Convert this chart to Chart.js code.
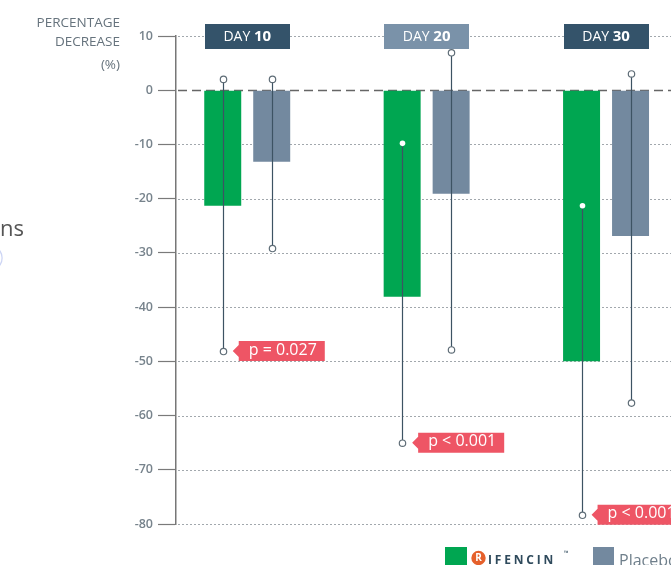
<!DOCTYPE html>
<html><head><meta charset="utf-8">
<script src="https://cdn.jsdelivr.net/npm/chart.js@4.4.1/dist/chart.umd.min.js"></script>
<style>html,body{margin:0;padding:0;background:#fff;overflow:hidden}canvas{display:block}</style>
</head><body><canvas id="c" width="671" height="565"></canvas>
<script>
// ---- data ----
const categories = ['DAY 10', 'DAY 20', 'DAY 30'];
const rifencin = [-21.3, -38.1, -50.0];
const placebo = [-13.2, -19.1, -26.9];
const rifencinErrHigh = [2.0, -9.8, -21.3];
const rifencinErrLow = [-48.2, -65.1, -78.4];
const placeboErrHigh = [2.0, 6.9, 3.0];
const placeboErrLow = [-29.2, -47.9, -57.7];
const pValues = ['p = 0.027', 'p < 0.001', 'p < 0.001'];
const yTickValues = [10, 0, -10, -20, -30, -40, -50, -60, -70, -80];
const seriesNames = ['RIFENCIN', 'Placebo'];
const yTitle = ['PERCENTAGE', 'DECREASE', '(%)'];

// ---- styles ----
const GREEN = '#00a651';
const GREY = '#73899f';
const DAY_BG = ['#34536a', '#7a92a9', '#34536a'];
const FONT = '"Open Sans", sans-serif';

const errHigh = [rifencinErrHigh, placeboErrHigh];
const errLow = [rifencinErrLow, placeboErrLow];

const deco = {
  id: 'deco',
  beforeDatasetsDraw(chart) {
    const { ctx, chartArea: a, scales: { y } } = chart;
    ctx.save();
    y.ticks.forEach(t => {
      const py = Math.round(y.getPixelForValue(t.value)) + 0.5;
      ctx.beginPath();
      if (t.value === 0) { ctx.setLineDash([9, 5]); ctx.strokeStyle = '#666'; ctx.lineWidth = 1.3; }
      else { ctx.setLineDash([2, 2]); ctx.strokeStyle = '#a2a8ad'; ctx.lineWidth = 1; }
      ctx.moveTo(a.left + 2, py); ctx.lineTo(a.right, py); ctx.stroke();
    });
    ctx.restore();
  },
  afterDatasetsDraw(chart) {
    const { ctx, scales: { y } } = chart;
    ctx.save();
    [0, 1].forEach(d => {
      const meta = chart.getDatasetMeta(d);
      meta.data.forEach((bar, i) => {
        const x = Math.round(bar.x) + 0.5;
        const yh = y.getPixelForValue(errHigh[d][i]);
        const yl = y.getPixelForValue(errLow[d][i]);
        ctx.beginPath();
        ctx.strokeStyle = '#3d5363';
        ctx.lineWidth = 1.2;
        ctx.moveTo(x, yh); ctx.lineTo(x, yl); ctx.stroke();
        const top = Math.min(bar.y, bar.base), bot = Math.max(bar.y, bar.base);
        [yh, yl].forEach(py => {
          const inside = py > top + 2 && py < bot - 2;
          ctx.beginPath();
          ctx.arc(x, py, inside ? 2.8 : 3.2, 0, Math.PI * 2);
          ctx.fillStyle = '#fff';
          ctx.fill();
          if (!inside) {
            ctx.strokeStyle = '#5f6d77';
            ctx.lineWidth = 1.2;
            ctx.stroke();
          }
        });
      });
    });
    ctx.restore();
  },
  afterDraw(chart) {
    const { ctx, scales: { x, y } } = chart;
    ctx.save();
    // DAY labels
    categories.forEach((c, i) => {
      const cx = x.getPixelForValue(i + 1);
      const cy = y.getPixelForValue(10);
      const w = 85, h = 25;
      ctx.fillStyle = DAY_BG[i];
      ctx.fillRect(Math.round(cx - w / 2), Math.round(cy - h / 2), w, h);
      const parts = c.split(' ');
      ctx.font = '500 14px ' + FONT;
      const w1 = ctx.measureText(parts[0] + ' ').width;
      ctx.font = '700 15px ' + FONT;
      const w2 = ctx.measureText(parts[1]).width;
      let sx = cx - (w1 + w2) / 2;
      ctx.fillStyle = '#fff';
      ctx.textBaseline = 'middle';
      ctx.textAlign = 'left';
      ctx.font = '500 14px ' + FONT;
      ctx.fillText(parts[0] + ' ', sx, cy + 1);
      ctx.font = '700 15px ' + FONT;
      ctx.fillText(parts[1], sx + w1, cy + 1);
    });
    // p-value tags
    const meta = chart.getDatasetMeta(0);
    ctx.font = '16px ' + FONT;
    pValues.forEach((p, i) => {
      const bar = meta.data[i];
      const cx = bar.x, cy = y.getPixelForValue(rifencinErrLow[i]) - 0.5;
      const tip = cx + 10, left = tip + 6, h = 20;
      const tw = ctx.measureText(p).width;
      const w = tw + 18;
      ctx.fillStyle = '#ee5565';
      ctx.beginPath();
      ctx.moveTo(tip, cy);
      ctx.lineTo(left, cy - 6);
      ctx.lineTo(left, cy - h / 2);
      ctx.lineTo(left + w, cy - h / 2);
      ctx.lineTo(left + w, cy + h / 2);
      ctx.lineTo(left, cy + h / 2);
      ctx.lineTo(left, cy + 6);
      ctx.closePath();
      ctx.fill();
      ctx.fillStyle = '#fff';
      ctx.textBaseline = 'middle';
      ctx.textAlign = 'left';
      ctx.fillText(p, left + 10, cy - 1);
    });
    // y title
    ctx.fillStyle = '#66737d';
    ctx.textAlign = 'right';
    ctx.textBaseline = 'alphabetic';
    ctx.font = '13.5px ' + FONT;
    ctx.fillText(yTitle[0], 120, 27);
    ctx.fillText(yTitle[1], 120, 46);
    ctx.fillText(yTitle[2], 120, 69);
    // cropped side text
    ctx.textAlign = 'left';
    ctx.fillStyle = '#555';
    ctx.font = '22px ' + FONT;
    ctx.fillText('ns', 0, 236);
    ctx.globalAlpha = 0.35;
    ctx.strokeStyle = '#6f86e0';
    ctx.lineWidth = 1.5;
    ctx.beginPath(); ctx.arc(-11, 258, 13, -0.6, 0.6); ctx.stroke();
    ctx.globalAlpha = 1;
    // legend
    ctx.fillStyle = GREEN;
    ctx.fillRect(445, 547, 22, 22);
    ctx.fillStyle = '#e5602b';
    ctx.beginPath(); ctx.arc(478.5, 558, 7.2, 0, Math.PI * 2); ctx.fill();
    ctx.fillStyle = '#fff';
    ctx.font = '700 10px ' + FONT;
    ctx.textAlign = 'center';
    ctx.textBaseline = 'middle';
    ctx.fillText(seriesNames[0][0], 478.5, 558.5);
    ctx.textAlign = 'left';
    ctx.textBaseline = 'alphabetic';
    ctx.fillStyle = '#2f4a5c';
    ctx.font = '700 12px ' + FONT;
    ctx.letterSpacing = '2.8px';
    ctx.fillText(seriesNames[0].slice(1), 488, 564);
    ctx.letterSpacing = '0px';
    ctx.font = '6px ' + FONT;
    ctx.fillText('™', 564, 555);
    ctx.fillStyle = GREY;
    ctx.fillRect(593, 547, 21, 21);
    ctx.fillStyle = '#6f7f8b';
    ctx.font = '16px ' + FONT;
    ctx.fillText(seriesNames[1], 619, 566);
    ctx.restore();
  }
};

new Chart(document.getElementById('c'), {
  type: 'bar',
  data: {
    datasets: [
      { label: seriesNames[0], data: rifencin.map((v, i) => ({ x: i + 1, y: v })), backgroundColor: GREEN, borderWidth: 0 },
      { label: seriesNames[1], data: placebo.map((v, i) => ({ x: i + 1, y: v })), backgroundColor: GREY, borderWidth: 0 }
    ]
  },
  options: {
    responsive: false,
    animation: false,
    categoryPercentage: 0.546,
    barPercentage: 0.755,
    layout: { padding: { left: 0, right: 0, top: 36, bottom: 41 } },
    plugins: { legend: { display: false }, tooltip: { enabled: false } },
    scales: {
      x: {
        type: 'linear',
        display: false,
        offset: false,
        min: 0.603,
        max: 3.362,
        afterBuildTicks: s => { s.ticks = categories.map((c, i) => ({ value: i + 1 })); }
      },
      y: {
        min: -80,
        max: 10,
        afterFit: s => { s.width = 176; },
        afterBuildTicks: s => { s.ticks = yTickValues.map(v => ({ value: v })); },
        ticks: { color: '#77838c', padding: 5, font: { family: 'Open Sans', size: 12.5, weight: '600' } },
        grid: { drawOnChartArea: false, drawTicks: true, tickLength: 18, tickColor: '#7a7a7a', tickWidth: 1.2 },
        border: { display: true, color: '#777', width: 1.5 }
      }
    }
  },
  plugins: [deco]
});
</script>
</body></html>
